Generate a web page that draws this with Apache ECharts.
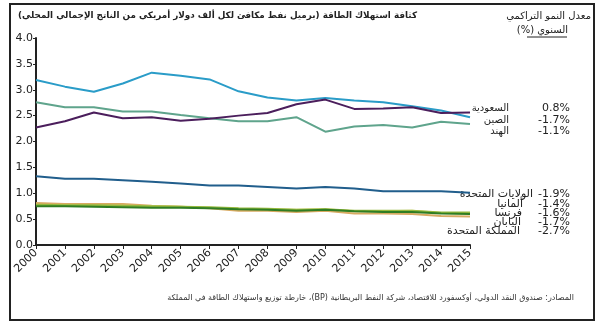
<!DOCTYPE html>
<html><head><meta charset="utf-8">
<script src="https://cdn.jsdelivr.net/npm/echarts@6/dist/echarts.min.js"></script>
<style>html,body{margin:0;padding:0;background:#fff}#c{width:600px;height:327px}</style>
</head><body><div id="c"></div>
<script>
const years = ['2000','2001','2002','2003','2004','2005','2006','2007','2008','2009','2010','2011','2012','2013','2014','2015'];
const yTicks = [0, 0.5, 1.0, 1.5, 2.0, 2.5, 3.0, 3.5, 4.0];
const china  = [3.19,3.06,2.96,3.12,3.33,3.27,3.20,2.97,2.85,2.79,2.84,2.79,2.76,2.68,2.60,2.47];
const saudi  = [2.27,2.39,2.56,2.45,2.47,2.40,2.44,2.50,2.55,2.72,2.81,2.63,2.64,2.66,2.55,2.56];
const india  = [2.76,2.66,2.66,2.58,2.58,2.51,2.45,2.39,2.39,2.47,2.19,2.29,2.32,2.27,2.38,2.34];
const usa    = [1.33,1.28,1.28,1.25,1.22,1.19,1.15,1.15,1.12,1.09,1.12,1.09,1.04,1.04,1.04,1.01];
const germany= [0.78,0.77,0.77,0.76,0.75,0.74,0.73,0.71,0.70,0.68,0.69,0.66,0.66,0.66,0.63,0.63];
const france = [0.77,0.77,0.76,0.76,0.75,0.74,0.72,0.70,0.69,0.68,0.69,0.65,0.65,0.66,0.62,0.61];
const japan  = [0.75,0.75,0.74,0.73,0.72,0.72,0.71,0.69,0.68,0.66,0.68,0.65,0.64,0.64,0.61,0.60];
const uk     = [0.81,0.79,0.79,0.79,0.76,0.74,0.71,0.66,0.66,0.64,0.66,0.61,0.61,0.60,0.56,0.55];
const namesTop = ['السعودية','الصين','الهند'];
const ratesTop = ['0.8%','-1.7%','-1.1%'];
const namesLow = ['الولايات المتحدة','ألمانيا','فرنسا','اليابان','المملكة المتحدة'];
const ratesLow = ['-1.9%','-1.4%','-1.6%','-1.7%','-2.7%'];
const title = 'كثافة استهلاك الطاقة (برميل نفط مكافئ لكل ألف دولار أمريكي من الناتج الإجمالي المحلي)';
const rateHead1 = 'معدل النمو التراكمي';
const rateHead2 = 'السنوي (%)';
const source = 'المصادر: صندوق النقد الدولي، أوكسفورد للاقتصاد، شركة النفط البريطانية (BP)، خارطة توزيع واستهلاك الطاقة في المملكة';

const RTL = s => '\u202B' + s + '\u202C';
const chart = echarts.init(document.getElementById('c'));
function ln(name, data, color){
  return {name, type:'line', data, symbol:'none', smooth:false, lineStyle:{color, width:2}, itemStyle:{color}};
}
const txt = (x,y,text,opt) => ({type:'text', x, y, style:Object.assign({text, fill:'#222', font:'11px "DejaVu Sans"', textAlign:'right', textVerticalAlign:'middle'}, opt||{})});
const gfx = [
  {type:'rect', shape:{x:10,y:4,width:584,height:316}, style:{fill:'none', stroke:'#222', lineWidth:2}},
  txt(417,16,RTL(title),{font:'bold 8.8px "DejaVu Sans"'}),
  txt(591,16,RTL(rateHead1),{font:'10px "DejaVu Sans"'}),
  txt(568,30,RTL(rateHead2),{font:'10px "DejaVu Sans"'}),
  {type:'line', shape:{x1:527,y1:37,x2:567,y2:37}, style:{stroke:'#222', lineWidth:1}},
  txt(574,298,RTL(source),{font:'8px "DejaVu Sans"', fill:'#333'})
];
const topY=[108,120,131], lowY=[194,204,213,222,231], lowX=[533,523,522,521,520];
namesTop.forEach((n,i)=>{gfx.push(txt(509,topY[i],RTL(n),{font:'10px "DejaVu Sans"'})); gfx.push(txt(570,topY[i],ratesTop[i]));});
namesLow.forEach((n,i)=>{gfx.push(txt(lowX[i],lowY[i],RTL(n),{font:'11px "DejaVu Sans"'})); gfx.push(txt(570,lowY[i],ratesLow[i]));});

chart.setOption({
  animation:false,
  grid:{left:36, right:130, top:38, bottom:82},
  xAxis:{type:'category', data:years, boundaryGap:false,
    axisLine:{lineStyle:{color:'#222', width:2}},
    axisTick:{show:true, length:4, lineStyle:{color:'#222'}},
    axisLabel:{rotate:45, color:'#222', fontFamily:'DejaVu Sans', fontSize:11, interval:0, margin:6},
    splitLine:{show:false}},
  yAxis:{type:'value', min:yTicks[0], max:yTicks[yTicks.length-1], interval:0.5,
    axisLine:{show:true, lineStyle:{color:'#222', width:2}},
    axisTick:{show:true, length:3, lineStyle:{color:'#222'}},
    axisLabel:{color:'#222', fontFamily:'DejaVu Sans', fontSize:11, formatter:v=>v.toFixed(1), margin:3},
    splitLine:{show:false}},
  series:[
    ln('UK', uk, '#d8aa62'),
    ln('France', france, '#e6d678'),
    ln('Germany', germany, '#94b93e'),
    ln('Japan', japan, '#2f7d23'),
    ln('USA', usa, '#215e8c'),
    ln('India', india, '#5fa48c'),
    ln('China', china, '#2a9cc8'),
    ln('Saudi', saudi, '#4b1e5c')
  ],
  graphic:gfx
});
</script></body></html>
